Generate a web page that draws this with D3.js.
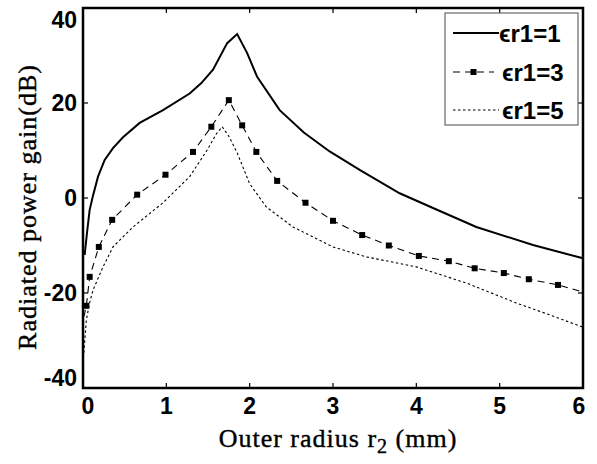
<!DOCTYPE html>
<html>
<head>
<meta charset="UTF-8" />
<script src="https://d3js.org/d3.v7.min.js"></script>
<style>
  body { margin: 0; background: #fff; }
  .tick-label { font-family: "Liberation Sans", Arial, sans-serif; font-weight: bold; font-size: 23px; fill: #000; }
  .axis-title { font-family: "Liberation Serif", "Times New Roman", serif; font-size: 26px; letter-spacing: 1px; fill: #000; stroke: #000; stroke-width: 0.4px; }
  .legend text { font-family: "Liberation Sans", Arial, sans-serif; font-weight: bold; font-size: 24px; fill: #000; }
</style>
</head>
<body>
<svg width="597" height="464"></svg>
<script>
  // data
  const xTicks = [0, 1, 2, 3, 4, 5, 6];
  const yTicks = [-40, -20, 0, 20, 40];

  const radius1 = [0.02, 0.05, 0.08, 0.12, 0.18, 0.26, 0.36, 0.48, 0.68, 0.96, 1.28, 1.42, 1.56, 1.73, 1.85, 1.97, 2.09, 2.36, 2.65, 2.96, 3.32, 3.8, 4.2, 4.72, 5.4, 6.0];
  const gain1 = [-12, -7, -2.5, 0.5, 4.5, 8, 10.5, 12.8, 15.8, 18.5, 22, 24.2, 27, 32.6, 34.5, 30.5, 25.5, 18.5, 13.8, 9.8, 5.9, 1, -2.1, -6.1, -9.9, -12.7];

  // first and last point are line only, the rest carry a square marker
  const radius3 = [0.01, 0.04, 0.08, 0.19, 0.35, 0.65, 0.99, 1.32, 1.54, 1.75, 1.91, 2.08, 2.33, 2.67, 3.0, 3.35, 3.67, 4.03, 4.39, 4.7, 5.05, 5.35, 5.7, 6.0];
  const gain3 = [-25, -22.7, -16.6, -10.3, -4.6, 0.7, 4.9, 9.7, 15, 20.6, 15.3, 9.7, 3.6, -1, -4.8, -7.8, -10, -12.2, -13.3, -14.8, -15.8, -17.1, -18.3, -19.8];

  const radius5 = [0.01, 0.04, 0.08, 0.12, 0.24, 0.36, 0.6, 0.96, 1.28, 1.49, 1.6, 1.67, 1.75, 1.85, 2.0, 2.2, 2.52, 3.0, 3.4, 4.0, 4.6, 5.2, 5.6, 6.0];
  const gain5 = [-32.6, -25.7, -22, -19.4, -14.5, -10.3, -6.1, -1, 4.5, 10.1, 13.5, 15, 13, 9.5, 3, -1.9, -6.1, -10.3, -12.4, -14.5, -17.9, -22.1, -24.6, -27.2];

  const legendLabels = ["\u03F5r1=1", "\u03F5r1=3", "\u03F5r1=5"];

  const svg = d3.select("svg");
  const pLeft = 83, pRight = 583, pTop = 8, pBottom = 388;

  const x = d3.scaleLinear().domain([0, 6]).range([pLeft, pRight]);
  const y = d3.scaleLinear().domain([-40, 40]).range([pBottom, pTop]);

  const line = d3.line().x((d) => x(d[0])).y((d) => y(d[1]));
  const pts = (xs, ys) => xs.map((v, i) => [v, ys[i]]);

  const plot = svg.append("g");

  // curves
  plot.append("path")
    .attr("d", line(pts(radius5, gain5)))
    .attr("fill", "none").attr("stroke", "#000").attr("stroke-width", 1.1)
    .attr("stroke-dasharray", "2.5,2.5");

  plot.append("path")
    .attr("d", line(pts(radius3, gain3)))
    .attr("fill", "none").attr("stroke", "#000").attr("stroke-width", 1.1)
    .attr("stroke-dasharray", "7,5");

  plot.append("g").selectAll("rect")
    .data(pts(radius3, gain3).slice(1, -1))
    .enter().append("rect")
    .attr("x", (d) => x(d[0]) - 3).attr("y", (d) => y(d[1]) - 3)
    .attr("width", 6).attr("height", 6).attr("fill", "#000");

  plot.append("path")
    .attr("d", line(pts(radius1, gain1)))
    .attr("fill", "none").attr("stroke", "#000").attr("stroke-width", 2);

  // ticks inward on all four sides
  const tk = 5;
  const ticks = svg.append("g").attr("stroke", "#000").attr("stroke-width", 1.2);
  xTicks.slice(1, -1).forEach((t) => {
    ticks.append("line").attr("x1", x(t)).attr("x2", x(t)).attr("y1", pBottom).attr("y2", pBottom - tk);
    ticks.append("line").attr("x1", x(t)).attr("x2", x(t)).attr("y1", pTop).attr("y2", pTop + tk);
  });
  yTicks.slice(1, -1).forEach((t) => {
    ticks.append("line").attr("x1", pLeft).attr("x2", pLeft + tk).attr("y1", y(t)).attr("y2", y(t));
    ticks.append("line").attr("x1", pRight).attr("x2", pRight - tk).attr("y1", y(t)).attr("y2", y(t));
  });

  // legend
  const lg = svg.append("g").attr("class", "legend");
  lg.append("rect").attr("x", 445).attr("y", 13).attr("width", 133).attr("height", 112)
    .attr("fill", "#fff").attr("stroke", "#666").attr("stroke-width", 1.2);
  const rowY = [33, 72, 110];
  lg.append("line").attr("x1", 453).attr("x2", 499).attr("y1", rowY[0]).attr("y2", rowY[0])
    .attr("stroke", "#000").attr("stroke-width", 2);
  lg.append("line").attr("x1", 453).attr("x2", 494).attr("y1", rowY[1]).attr("y2", rowY[1])
    .attr("stroke", "#000").attr("stroke-width", 1.2).attr("stroke-dasharray", "7,5");
  lg.append("rect").attr("x", 470.5).attr("y", rowY[1] - 3).attr("width", 6).attr("height", 6).attr("fill", "#000");
  lg.append("line").attr("x1", 453).attr("x2", 499).attr("y1", rowY[2]).attr("y2", rowY[2])
    .attr("stroke", "#000").attr("stroke-width", 1.1).attr("stroke-dasharray", "2.5,2.5");
  lg.selectAll("text.lab").data(legendLabels).enter().append("text")
    .attr("class", "lab")
    .attr("x", (d, i) => (i === 0 ? 499 : 502))
    .attr("y", (d, i) => rowY[i] + 9)
    .text((d) => d);

  // frame
  svg.append("rect").attr("x", pLeft).attr("y", pTop).attr("width", pRight - pLeft).attr("height", pBottom - pTop)
    .attr("fill", "none").attr("stroke", "#000").attr("stroke-width", 2.5);

  // tick labels
  svg.append("g").selectAll("text").data(xTicks).enter().append("text")
    .attr("class", "tick-label")
    .attr("x", (d) => x(d) + (d === 0 ? 5 : d === 6 ? -4 : 0))
    .attr("y", 414)
    .attr("text-anchor", "middle")
    .text((d) => d);

  svg.append("g").selectAll("text").data(yTicks).enter().append("text")
    .attr("class", "tick-label")
    .attr("x", 77)
    .attr("y", (d) => y(d) + 8 + (d === 40 ? 12 : d === -40 ? -10 : 0))
    .attr("text-anchor", "end")
    .text((d) => d);

  // axis titles
  const xt = svg.append("text").attr("class", "axis-title")
    .attr("x", 338).attr("y", 447).attr("text-anchor", "middle");
  xt.append("tspan").text("Outer radius r");
  xt.append("tspan").attr("dy", 6).attr("font-size", 20).text("2");
  xt.append("tspan").attr("dy", -6).text(" (mm)");

  svg.append("text").attr("class", "axis-title")
    .attr("transform", "translate(36,207) rotate(-90)")
    .attr("text-anchor", "middle")
    .text("Radiated power gain(dB)");
</script>
</body>
</html>
